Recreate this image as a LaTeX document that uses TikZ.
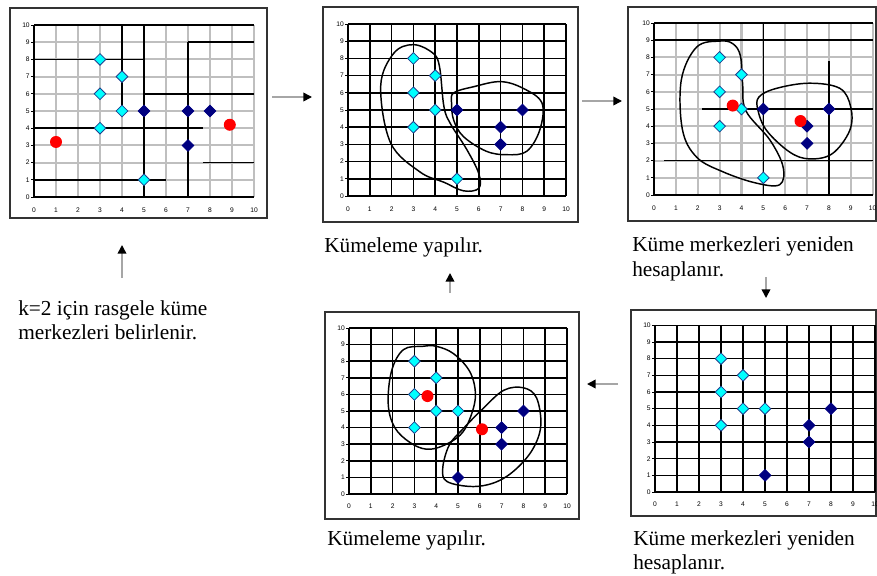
\documentclass[tikz,border=0pt]{standalone}
\usepackage{fontspec}
\setmainfont{Liberation Serif}
\setsansfont{Liberation Sans}
\usetikzlibrary{arrows.meta,shapes.geometric}

\definecolor{lightpt}{HTML}{00FFFF}
\definecolor{darkpt}{HTML}{000080}
\definecolor{ptedge}{HTML}{1F3F8F}

\tikzset{
  frame/.style={draw=black!80,line width=1.4pt},
  darkgrid/.style={black,line width=1.1pt},
  palegrid/.style={gray!50,line width=1.6pt},
  lo/.style={diamond,draw=ptedge,fill=lightpt,line width=0.6pt,inner sep=0pt,
    minimum width=9pt,minimum height=9pt},
  hi/.style={diamond,draw=darkpt,fill=darkpt,line width=0.6pt,inner sep=0pt,
    minimum width=9pt,minimum height=9pt},
  ctr/.style={circle,fill=red,inner sep=0pt,minimum size=9pt},
  blob/.style={line width=1.1pt},
  caption/.style={font=\fontsize{16}{19}\selectfont,anchor=base west,inner sep=0pt},
  tick/.style={font=\sffamily\fontsize{5}{6}\selectfont,inner sep=1pt},
  flow/.style={draw=gray!70,line width=1.2pt,-{Triangle[length=6.5pt,width=6.5pt,color=black]}}
}

% grid, axes and tick labels of one chart; #1 grid style, #2 name prefix
\newcommand{\chartaxes}[2]{%
  \foreach \i in {0,...,10} {
    \draw[#1] (\i,0) -- (\i,10);
    \draw[#1] (0,\i) -- (10,\i);
  }
  \foreach \i in {0,...,10} {
    \draw[line width=0.5pt] (0,\i) -- (-0.12,\i) node[tick,left] (#2y\i) {\i};
    \node[tick] (#2x\i) at (\i,-0.75) {\i};
  }
  \draw[line width=0.9pt] (0,10) -- (0,0) -- (10,0);
}

\begin{document}
\begin{tikzpicture}[x=0.75pt,y=-0.75pt]
  \useasboundingbox (0,0) rectangle (877,575);

  % frames
  \draw[frame] (10,8) rectangle (267,218);
  \draw[frame] (323,7) rectangle (578,222);
  \draw[frame] (628,7) rectangle (876,221);
  \draw[frame] (325,312) rectangle (579,519);
  \draw[frame] (631,310) rectangle (876,516);

  % chart 1: random centres
  \begin{scope}[shift={(34,197)},x=16.5pt,y=12.9pt]
    \chartaxes{palegrid}{a}
    \foreach \xa/\ya/\xb/\yb in {0/10/10/10,0/8/5/8,7/9/10/9,5/6/10/6,0/4/7.7/4,
        7.7/2/10/2,0/1/6/1,4/10/4/5,5/10/5/0,7/9/7/0}
      \draw[darkgrid] (\xa,\ya) -- (\xb,\yb);
    \foreach \p [count=\k] in {(3,8),(4,7),(3,6),(4,5),(3,4),(5,1)}
      \node[lo] (a-lo\k) at \p {};
    \foreach \p [count=\k] in {(5,5),(7,5),(8,5),(7,3)}
      \node[hi] (a-hi\k) at \p {};
    \node[ctr] (a-c1) at (1,3.2) {};
    \node[ctr] (a-c2) at (8.9,4.2) {};
  \end{scope}

  % chart 2: first clustering
  \begin{scope}[shift={(348,196)},x=16.35pt,y=12.9pt]
    \chartaxes{darkgrid}{b}
    \draw[blob] plot[smooth cycle,tension=0.6] coordinates {(3,8.8) (2.1,8.3)
      (1.5,6.4) (1.95,3.1) (3.3,1.4) (4.4,0.8) (5.3,0.3) (6,0.45) (6,1.3)
      (5.45,2.7) (4.7,4.2) (4.4,5.2) (4.2,7.5) (3.9,8.3)};
    \draw[blob] plot[smooth cycle,tension=0.6] coordinates {(4.85,6) (5.75,6.35)
      (7,6.65) (8.05,6.25) (8.9,5.4) (8.8,3.85) (8.2,2.6) (7.3,2.4) (6.35,2.6)
      (5.3,3.45) (4.85,4.4) (4.75,5.4)};
    \foreach \p [count=\k] in {(3,8),(4,7),(3,6),(4,5),(3,4),(5,1)}
      \node[lo] (b-lo\k) at \p {};
    \foreach \p [count=\k] in {(5,5),(8,5),(7,4),(7,3)}
      \node[hi] (b-hi\k) at \p {};
  \end{scope}

  % chart 3: new centres
  \begin{scope}[shift={(654,195)},x=16.4pt,y=12.9pt]
    \chartaxes{palegrid}{c}
    \foreach \xa/\ya/\xb/\yb in {0/10/10/10,0/9/10/9,2.2/5/10/5,0.45/2/10/2,
        5/0/5/10,8/7.8/8/0}
      \draw[darkgrid] (\xa,\ya) -- (\xb,\yb);
    \draw[blob] plot[smooth cycle,tension=0.6] coordinates {(3,8.95) (1.95,8.6)
      (1.25,6.7) (1.3,3.8) (1.95,2.2) (3.15,1.35) (4.65,0.7) (5.75,0.6)
      (5.9,1.65) (5.3,3.2) (4.2,4.9) (4.05,6.5) (3.95,8.1) (3.6,8.8)};
    \draw[blob] plot[smooth cycle,tension=0.6] coordinates {(4.8,5.7) (5.6,6.2)
      (7.1,6.5) (8.5,6.2) (9,5.1) (8.95,3.75) (8.15,2.4) (7.1,2.1) (6.2,2.5)
      (5.15,3.75) (4.75,4.95)};
    \foreach \p [count=\k] in {(3,8),(4,7),(3,6),(4,5),(3,4),(5,1)}
      \node[lo] (c-lo\k) at \p {};
    \foreach \p [count=\k] in {(5,5),(8,5),(7,4),(7,3)}
      \node[hi] (c-hi\k) at \p {};
    \node[ctr] (c-c1) at (3.6,5.2) {};
    \node[ctr] (c-c2) at (6.7,4.3) {};
  \end{scope}

  % chart 4: second clustering
  \begin{scope}[shift={(349,494)},x=16.35pt,y=12.45pt]
    \chartaxes{darkgrid}{d}
    \draw[blob] plot[smooth cycle,tension=0.6] coordinates {(3.4,8.9) (2.5,8.7)
      (1.95,7.4) (1.8,5.4) (2.1,4) (2.8,3.1) (3.55,2.7) (4.3,2.9) (5.1,3.55)
      (5.55,4.55) (5.8,5.95) (5.55,7.35) (4.8,8.45) (4,8.9)};
    \draw[blob] plot[smooth cycle,tension=0.6] coordinates {(7.1,6.25) (8,6.4)
      (8.6,5.8) (8.8,4.15) (8.45,2.75) (7.7,1.55) (6.8,0.75) (5.7,0.45)
      (4.5,0.75) (4.3,1.55) (4.6,2.95) (5.25,3.95) (6.15,5.15)};
    \foreach \p [count=\k] in {(3,8),(4,7),(3,6),(4,5),(5,5),(3,4)}
      \node[lo] (d-lo\k) at \p {};
    \foreach \p [count=\k] in {(8,5),(7,4),(7,3),(5,1)}
      \node[hi] (d-hi\k) at \p {};
    \node[ctr] (d-c1) at (3.6,5.9) {};
    \node[ctr] (d-c2) at (6.1,3.9) {};
  \end{scope}

  % chart 5: centres again
  \begin{scope}[shift={(655,492)},x=16.5pt,y=12.5pt]
    \chartaxes{darkgrid}{e}
    \foreach \p [count=\k] in {(3,8),(4,7),(3,6),(4,5),(5,5),(3,4)}
      \node[lo] (e-lo\k) at \p {};
    \foreach \p [count=\k] in {(8,5),(7,4),(7,3),(5,1)}
      \node[hi] (e-hi\k) at \p {};
  \end{scope}

  % captions
  \node[caption] (cap1a) at (18,315) {k=2 için rasgele küme};
  \node[caption] (cap1b) at (18,339) {merkezleri belirlenir.};
  \node[caption] (cap2) at (324,252) {Kümeleme yapılır.};
  \node[caption] (cap3a) at (632,251) {Küme merkezleri yeniden};
  \node[caption] (cap3b) at (632,276) {hesaplanır.};
  \node[caption] (cap4) at (327,545) {Kümeleme yapılır.};
  \node[caption] (cap5a) at (633,545) {Küme merkezleri yeniden};
  \node[caption] (cap5b) at (633,569) {hesaplanır.};

  % flow arrows
  \coordinate (f1s) at (122,278); \coordinate (f1e) at (122,245);
  \coordinate (f2s) at (272,97);  \coordinate (f2e) at (312,97);
  \coordinate (f3s) at (582,101); \coordinate (f3e) at (622,101);
  \coordinate (f4s) at (766,277); \coordinate (f4e) at (766,298);
  \coordinate (f5s) at (618,384); \coordinate (f5e) at (587,384);
  \coordinate (f6s) at (450,293); \coordinate (f6e) at (450,273);
  \foreach \k in {1,...,6}
    \draw[flow] (f\k s) -- (f\k e);
\end{tikzpicture}
\end{document}
